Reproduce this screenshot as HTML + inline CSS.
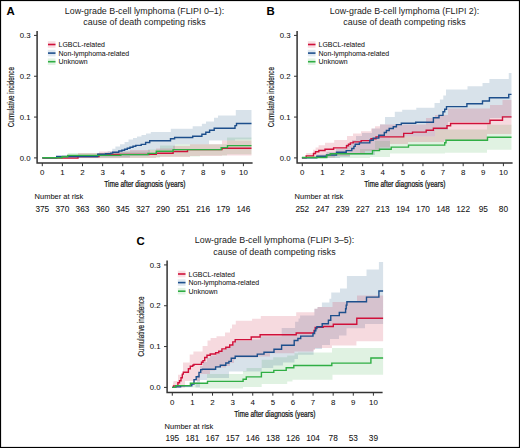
<!DOCTYPE html>
<html><head><meta charset="utf-8"><style>
html,body{margin:0;padding:0;background:#fff;}
svg{display:block;font-family:"Liberation Sans", sans-serif;}
text{stroke:#111;stroke-width:0.05px;}
</style></head><body>
<svg width="520" height="448" viewBox="0 0 520 448">
<rect x="0" y="0" width="520" height="448" fill="#fff"/>
<g><text x="6.6" y="15.2" font-size="11.4" font-weight="bold">A</text>
<text x="144.5" y="13.9" font-size="8.9" text-anchor="middle" fill="#1a1a1a" style="stroke-width:0">Low-grade B-cell lymphoma (FLIPI 0–1):</text>
<text x="144.5" y="25" font-size="8.9" text-anchor="middle" fill="#1a1a1a" style="stroke-width:0">cause of death competing risks</text>
<path d="M61.90 155.00 L67.70 155.00 L67.70 153.00 L120.00 153.00 L120.00 151.50 L148.00 151.50 L148.00 149.50 L160.00 149.50 L160.00 145.50 L175.00 145.50 L175.00 144.30 L227.00 144.30 L227.00 137.60 L251.50 137.60 L251.50 154.20 L227.00 154.20 L227.00 155.50 L200.00 155.50 L200.00 156.50 L160.00 156.50 L160.00 157.80 L120.00 157.80 L120.00 158.00 L61.90 158.00 Z" fill="#64be6e" fill-opacity="0.2"/>
<path d="M56.70 156.00 L97.70 156.00 L97.70 153.50 L104.00 153.50 L104.00 152.50 L107.70 152.50 L107.70 151.20 L112.30 151.20 L112.30 148.80 L115.40 148.80 L115.40 146.50 L120.00 146.50 L120.00 144.20 L124.60 144.20 L124.60 142.00 L128.50 142.00 L128.50 139.60 L133.00 139.60 L133.00 138.00 L137.00 138.00 L137.00 136.50 L141.50 136.50 L141.50 135.00 L146.00 135.00 L146.00 133.50 L150.80 133.50 L150.80 132.00 L170.80 132.00 L170.80 128.80 L192.70 128.80 L192.70 126.20 L201.90 126.20 L201.90 123.80 L206.00 123.80 L206.00 121.50 L214.00 121.50 L214.00 117.70 L218.00 117.70 L218.00 115.40 L235.80 115.40 L235.80 110.00 L251.50 110.00 L251.50 139.50 L235.00 139.50 L235.00 140.60 L209.00 140.60 L209.00 144.30 L175.00 144.30 L175.00 150.00 L150.00 150.00 L150.00 156.00 L130.00 156.00 L130.00 157.50 L97.70 157.50 L97.70 157.90 L56.70 157.90 Z" fill="#3c6e96" fill-opacity="0.2"/>
<path d="M62.50 156.00 L78.00 156.00 L78.00 153.00 L99.00 153.00 L99.00 151.50 L130.00 151.50 L130.00 150.00 L156.00 150.00 L156.00 148.50 L173.00 148.50 L173.00 146.00 L190.00 146.00 L190.00 144.30 L222.00 144.30 L222.00 140.60 L251.50 140.60 L251.50 155.40 L222.00 155.40 L222.00 156.00 L190.00 156.00 L190.00 157.00 L156.00 157.00 L156.00 158.00 L120.00 158.00 L120.00 158.20 L62.50 158.20 Z" fill="#d24660" fill-opacity="0.2"/>
<path d="M42.30 158.10 H78.00 V156.50 H99.00 V154.40 H156.30 V153.20 H173.10 V151.50 H187.50 V149.60 H222.00 V148.30 H251.50" fill="none" stroke="#d0103a" stroke-width="1.4" stroke-linejoin="miter" stroke-linecap="butt"/>
<path d="M42.30 157.90 H56.70 V156.50 H97.70 V154.30 H105.80 V153.80 H110.80 V153.10 H112.70 V152.30 H118.80 V151.00 H121.90 V150.30 H124.60 V149.30 H127.30 V148.30 H130.00 V147.30 H133.00 V146.30 H135.80 V145.40 H141.20 V144.40 H145.60 V142.50 H149.70 V140.80 H170.50 V138.80 H174.60 V137.50 H192.70 V136.20 H201.90 V134.20 H205.80 V132.30 H209.60 V130.20 H214.20 V128.20 H235.00 V125.60 H236.50 V123.50 H251.50" fill="none" stroke="#1d4f8c" stroke-width="1.4" stroke-linejoin="miter" stroke-linecap="butt"/>
<path d="M42.30 157.70 H61.90 V156.70 H67.70 V155.40 H120.80 V154.60 H148.00 V153.40 H156.30 V151.20 H173.10 V149.60 H221.20 V147.60 H227.50 V145.60 H251.50" fill="none" stroke="#2fae44" stroke-width="1.4" stroke-linejoin="miter" stroke-linecap="butt"/>
<path d="M37.1 31 V163 H252.6" fill="none" stroke="#333" stroke-width="1.5"/>
<path d="M34 157.90 H37" stroke="#333" stroke-width="1"/>
<text x="30.5" y="160.65" font-size="7.8" text-anchor="end" fill="#111">0.0</text>
<path d="M34 117.07 H37" stroke="#333" stroke-width="1"/>
<text x="30.5" y="119.82" font-size="7.8" text-anchor="end" fill="#111">0.1</text>
<path d="M34 76.24 H37" stroke="#333" stroke-width="1"/>
<text x="30.5" y="78.99" font-size="7.8" text-anchor="end" fill="#111">0.2</text>
<path d="M34 35.41 H37" stroke="#333" stroke-width="1"/>
<text x="30.5" y="38.16" font-size="7.8" text-anchor="end" fill="#111">0.3</text>
<path d="M42.30 163 V166.2" stroke="#333" stroke-width="1"/>
<text x="42.30" y="175" font-size="7.9" text-anchor="middle" fill="#111">0</text>
<path d="M62.41 163 V166.2" stroke="#333" stroke-width="1"/>
<text x="62.41" y="175" font-size="7.9" text-anchor="middle" fill="#111">1</text>
<path d="M82.52 163 V166.2" stroke="#333" stroke-width="1"/>
<text x="82.52" y="175" font-size="7.9" text-anchor="middle" fill="#111">2</text>
<path d="M102.63 163 V166.2" stroke="#333" stroke-width="1"/>
<text x="102.63" y="175" font-size="7.9" text-anchor="middle" fill="#111">3</text>
<path d="M122.74 163 V166.2" stroke="#333" stroke-width="1"/>
<text x="122.74" y="175" font-size="7.9" text-anchor="middle" fill="#111">4</text>
<path d="M142.85 163 V166.2" stroke="#333" stroke-width="1"/>
<text x="142.85" y="175" font-size="7.9" text-anchor="middle" fill="#111">5</text>
<path d="M162.96 163 V166.2" stroke="#333" stroke-width="1"/>
<text x="162.96" y="175" font-size="7.9" text-anchor="middle" fill="#111">6</text>
<path d="M183.07 163 V166.2" stroke="#333" stroke-width="1"/>
<text x="183.07" y="175" font-size="7.9" text-anchor="middle" fill="#111">7</text>
<path d="M203.18 163 V166.2" stroke="#333" stroke-width="1"/>
<text x="203.18" y="175" font-size="7.9" text-anchor="middle" fill="#111">8</text>
<path d="M223.29 163 V166.2" stroke="#333" stroke-width="1"/>
<text x="223.29" y="175" font-size="7.9" text-anchor="middle" fill="#111">9</text>
<path d="M243.40 163 V166.2" stroke="#333" stroke-width="1"/>
<text x="243.40" y="175" font-size="7.9" text-anchor="middle" fill="#111">10</text>
<text transform="translate(14.2 97) rotate(-90) scale(0.735 1)" x="0" y="0" font-size="8.6" text-anchor="middle" fill="#111" style="stroke-width:0.15px">Cumulative incidence</text>
<text transform="translate(144.8 187.4) scale(0.765 1)" x="0" y="0" font-size="8.6" text-anchor="middle" fill="#111" style="stroke-width:0.25px">Time after diagnosis (years)</text>
<text x="34.6" y="199.2" font-size="7.5" fill="#111">Number at risk</text>
<text x="42.30" y="211.8" font-size="8.3" text-anchor="middle" fill="#111">375</text>
<text x="62.41" y="211.8" font-size="8.3" text-anchor="middle" fill="#111">370</text>
<text x="82.52" y="211.8" font-size="8.3" text-anchor="middle" fill="#111">363</text>
<text x="102.63" y="211.8" font-size="8.3" text-anchor="middle" fill="#111">360</text>
<text x="122.74" y="211.8" font-size="8.3" text-anchor="middle" fill="#111">345</text>
<text x="142.85" y="211.8" font-size="8.3" text-anchor="middle" fill="#111">327</text>
<text x="162.96" y="211.8" font-size="8.3" text-anchor="middle" fill="#111">290</text>
<text x="183.07" y="211.8" font-size="8.3" text-anchor="middle" fill="#111">251</text>
<text x="203.18" y="211.8" font-size="8.3" text-anchor="middle" fill="#111">216</text>
<text x="223.29" y="211.8" font-size="8.3" text-anchor="middle" fill="#111">179</text>
<text x="243.40" y="211.8" font-size="8.3" text-anchor="middle" fill="#111">146</text>
<rect x="47.8" y="41.20" width="7.7" height="6.6" fill="#f8dfe3"/>
<path d="M48 44.50 H55.5" stroke="#d0103a" stroke-width="1.6"/>
<text x="58.6" y="47.10" font-size="6.95" fill="#111">LGBCL-related</text>
<rect x="47.8" y="49.80" width="7.7" height="6.6" fill="#e0e8f0"/>
<path d="M48 53.10 H55.5" stroke="#1d4f8c" stroke-width="1.6"/>
<text x="58.6" y="55.70" font-size="6.95" fill="#111">Non-lymphoma-related</text>
<rect x="47.8" y="58.40" width="7.7" height="6.6" fill="#e2f3e4"/>
<path d="M48 61.70 H55.5" stroke="#2fae44" stroke-width="1.6"/>
<text x="58.6" y="64.30" font-size="6.95" fill="#111">Unknown</text></g>
<g transform="translate(260 0)"><text x="6.6" y="15.2" font-size="11.4" font-weight="bold">B</text>
<text x="144.5" y="13.9" font-size="8.9" text-anchor="middle" fill="#1a1a1a" style="stroke-width:0">Low-grade B-cell lymphoma (FLIPI 2):</text>
<text x="144.5" y="25" font-size="8.9" text-anchor="middle" fill="#1a1a1a" style="stroke-width:0">cause of death competing risks</text>
<path d="M66.80 155.00 L80.00 155.00 L80.00 153.50 L100.00 153.50 L100.00 149.00 L115.00 149.00 L115.00 141.00 L130.00 141.00 L130.00 136.50 L175.00 136.50 L175.00 129.60 L227.00 129.60 L227.00 124.80 L251.50 124.80 L251.50 149.80 L227.00 149.80 L227.00 152.70 L185.00 152.70 L185.00 153.50 L130.00 153.50 L130.00 157.00 L110.00 157.00 L110.00 158.00 L70.00 158.00 L70.00 157.90 L41.90 157.90 Z" fill="#64be6e" fill-opacity="0.2"/>
<path d="M56.80 154.50 L66.50 154.50 L66.50 152.00 L76.00 152.00 L76.00 149.00 L86.00 149.00 L86.00 144.00 L92.00 144.00 L92.00 140.00 L96.00 140.00 L96.00 136.00 L102.00 136.00 L102.00 133.00 L112.00 133.00 L112.00 128.40 L120.00 128.40 L120.00 124.20 L125.00 124.20 L125.00 117.10 L134.80 117.10 L134.80 111.70 L142.20 111.70 L142.20 109.70 L156.30 109.70 L156.30 107.70 L174.50 107.70 L174.50 103.00 L179.90 103.00 L179.90 99.60 L183.30 99.60 L183.30 95.60 L186.00 95.60 L186.00 89.40 L207.50 89.40 L207.50 86.25 L222.50 86.25 L222.50 83.10 L229.40 83.10 L229.40 79.00 L248.75 79.00 L248.75 73.10 L251.50 73.10 L251.50 118.00 L230.00 118.00 L230.00 122.00 L188.00 122.00 L188.00 130.00 L175.00 130.00 L175.00 136.50 L130.00 136.50 L130.00 150.00 L115.00 150.00 L115.00 155.00 L90.00 155.00 L90.00 157.00 L80.00 157.00 L80.00 157.90 L56.80 157.90 Z" fill="#3c6e96" fill-opacity="0.2"/>
<path d="M46.20 153.10 L53.00 153.10 L53.00 149.70 L55.60 149.70 L55.60 147.50 L58.60 147.50 L58.60 145.30 L65.00 145.30 L65.00 142.70 L74.20 142.70 L74.20 140.10 L87.00 140.10 L87.00 136.10 L93.00 136.10 L93.00 133.40 L101.00 133.40 L101.00 131.20 L111.00 131.20 L111.00 128.50 L115.00 128.50 L115.00 126.30 L120.00 126.30 L120.00 124.50 L130.00 124.50 L130.00 124.50 L166.00 124.50 L166.00 118.00 L175.00 118.00 L175.00 115.00 L188.00 115.00 L188.00 108.50 L230.00 108.50 L230.00 105.00 L242.50 105.00 L242.50 100.00 L251.50 100.00 L251.50 133.90 L227.00 133.90 L227.00 140.40 L184.00 140.40 L184.00 142.00 L148.00 142.00 L148.00 144.00 L130.00 144.00 L130.00 147.50 L120.00 147.50 L120.00 151.00 L105.00 151.00 L105.00 154.00 L90.00 154.00 L90.00 156.00 L75.00 156.00 L75.00 157.50 L60.00 157.50 L60.00 157.90 L46.20 157.90 Z" fill="#d24660" fill-opacity="0.2"/>
<path d="M41.90 157.90 H46.20 V155.90 H53.50 V153.50 H55.50 V151.80 H58.80 V150.50 H65.00 V149.20 H73.60 V147.90 H86.50 V145.80 H88.50 V144.30 H90.40 V142.90 H93.20 V141.90 H101.20 V140.60 H111.00 V138.80 H116.00 V136.90 H143.70 V133.40 H152.50 V132.10 H166.20 V130.20 H173.40 V128.30 H187.00 V125.80 H190.60 V123.50 H230.00 V120.25 H242.50 V116.90 H251.50" fill="none" stroke="#d0103a" stroke-width="1.4" stroke-linejoin="miter" stroke-linecap="butt"/>
<path d="M41.90 157.90 H56.80 V156.20 H66.50 V155.00 H76.50 V152.30 H86.20 V150.60 H91.80 V148.50 H93.90 V146.40 H95.20 V144.30 H99.40 V142.90 H109.80 V140.20 H113.20 V138.10 H118.80 V135.30 H124.30 V132.50 H126.40 V130.50 H129.20 V128.50 H133.30 V126.70 H136.40 V124.60 H141.30 V123.30 H155.70 V122.20 H173.40 V117.70 H179.00 V115.40 H183.00 V111.70 H184.70 V109.20 H186.50 V106.60 H206.90 V103.75 H222.50 V101.00 H229.40 V97.75 H248.75 V94.40 H251.50" fill="none" stroke="#1d4f8c" stroke-width="1.4" stroke-linejoin="miter" stroke-linecap="butt"/>
<path d="M41.90 157.50 H66.80 V155.10 H70.20 V153.70 H112.50 V150.60 H119.50 V149.20 H131.20 V147.10 H148.50 V145.10 H184.70 V142.75 H186.00 V140.30 H227.50 V137.25 H251.50" fill="none" stroke="#2fae44" stroke-width="1.4" stroke-linejoin="miter" stroke-linecap="butt"/>
<path d="M37.1 31 V163 H252.6" fill="none" stroke="#333" stroke-width="1.5"/>
<path d="M34 157.90 H37" stroke="#333" stroke-width="1"/>
<text x="30.5" y="160.65" font-size="7.8" text-anchor="end" fill="#111">0.0</text>
<path d="M34 117.07 H37" stroke="#333" stroke-width="1"/>
<text x="30.5" y="119.82" font-size="7.8" text-anchor="end" fill="#111">0.1</text>
<path d="M34 76.24 H37" stroke="#333" stroke-width="1"/>
<text x="30.5" y="78.99" font-size="7.8" text-anchor="end" fill="#111">0.2</text>
<path d="M34 35.41 H37" stroke="#333" stroke-width="1"/>
<text x="30.5" y="38.16" font-size="7.8" text-anchor="end" fill="#111">0.3</text>
<path d="M42.30 163 V166.2" stroke="#333" stroke-width="1"/>
<text x="42.30" y="175" font-size="7.9" text-anchor="middle" fill="#111">0</text>
<path d="M62.41 163 V166.2" stroke="#333" stroke-width="1"/>
<text x="62.41" y="175" font-size="7.9" text-anchor="middle" fill="#111">1</text>
<path d="M82.52 163 V166.2" stroke="#333" stroke-width="1"/>
<text x="82.52" y="175" font-size="7.9" text-anchor="middle" fill="#111">2</text>
<path d="M102.63 163 V166.2" stroke="#333" stroke-width="1"/>
<text x="102.63" y="175" font-size="7.9" text-anchor="middle" fill="#111">3</text>
<path d="M122.74 163 V166.2" stroke="#333" stroke-width="1"/>
<text x="122.74" y="175" font-size="7.9" text-anchor="middle" fill="#111">4</text>
<path d="M142.85 163 V166.2" stroke="#333" stroke-width="1"/>
<text x="142.85" y="175" font-size="7.9" text-anchor="middle" fill="#111">5</text>
<path d="M162.96 163 V166.2" stroke="#333" stroke-width="1"/>
<text x="162.96" y="175" font-size="7.9" text-anchor="middle" fill="#111">6</text>
<path d="M183.07 163 V166.2" stroke="#333" stroke-width="1"/>
<text x="183.07" y="175" font-size="7.9" text-anchor="middle" fill="#111">7</text>
<path d="M203.18 163 V166.2" stroke="#333" stroke-width="1"/>
<text x="203.18" y="175" font-size="7.9" text-anchor="middle" fill="#111">8</text>
<path d="M223.29 163 V166.2" stroke="#333" stroke-width="1"/>
<text x="223.29" y="175" font-size="7.9" text-anchor="middle" fill="#111">9</text>
<path d="M243.40 163 V166.2" stroke="#333" stroke-width="1"/>
<text x="243.40" y="175" font-size="7.9" text-anchor="middle" fill="#111">10</text>
<text transform="translate(14.2 97) rotate(-90) scale(0.735 1)" x="0" y="0" font-size="8.6" text-anchor="middle" fill="#111" style="stroke-width:0.15px">Cumulative incidence</text>
<text transform="translate(144.8 187.4) scale(0.765 1)" x="0" y="0" font-size="8.6" text-anchor="middle" fill="#111" style="stroke-width:0.25px">Time after diagnosis (years)</text>
<text x="34.6" y="199.2" font-size="7.5" fill="#111">Number at risk</text>
<text x="42.30" y="211.8" font-size="8.3" text-anchor="middle" fill="#111">252</text>
<text x="62.41" y="211.8" font-size="8.3" text-anchor="middle" fill="#111">247</text>
<text x="82.52" y="211.8" font-size="8.3" text-anchor="middle" fill="#111">239</text>
<text x="102.63" y="211.8" font-size="8.3" text-anchor="middle" fill="#111">227</text>
<text x="122.74" y="211.8" font-size="8.3" text-anchor="middle" fill="#111">213</text>
<text x="142.85" y="211.8" font-size="8.3" text-anchor="middle" fill="#111">194</text>
<text x="162.96" y="211.8" font-size="8.3" text-anchor="middle" fill="#111">170</text>
<text x="183.07" y="211.8" font-size="8.3" text-anchor="middle" fill="#111">148</text>
<text x="203.18" y="211.8" font-size="8.3" text-anchor="middle" fill="#111">122</text>
<text x="223.29" y="211.8" font-size="8.3" text-anchor="middle" fill="#111">95</text>
<text x="243.40" y="211.8" font-size="8.3" text-anchor="middle" fill="#111">80</text>
<rect x="47.8" y="41.20" width="7.7" height="6.6" fill="#f8dfe3"/>
<path d="M48 44.50 H55.5" stroke="#d0103a" stroke-width="1.6"/>
<text x="58.6" y="47.10" font-size="6.95" fill="#111">LGBCL-related</text>
<rect x="47.8" y="49.80" width="7.7" height="6.6" fill="#e0e8f0"/>
<path d="M48 53.10 H55.5" stroke="#1d4f8c" stroke-width="1.6"/>
<text x="58.6" y="55.70" font-size="6.95" fill="#111">Non-lymphoma-related</text>
<rect x="47.8" y="58.40" width="7.7" height="6.6" fill="#e2f3e4"/>
<path d="M48 61.70 H55.5" stroke="#2fae44" stroke-width="1.6"/>
<text x="58.6" y="64.30" font-size="6.95" fill="#111">Unknown</text></g>
<g transform="translate(130 229.5)"><text x="6.6" y="15.2" font-size="11.4" font-weight="bold">C</text>
<text x="144.5" y="13.9" font-size="8.9" text-anchor="middle" fill="#1a1a1a" style="stroke-width:0">Low-grade B-cell lymphoma (FLIPI 3–5):</text>
<text x="144.5" y="25" font-size="8.9" text-anchor="middle" fill="#1a1a1a" style="stroke-width:0">cause of death competing risks</text>
<path d="M45.60 156.00 L60.00 156.00 L60.00 153.50 L77.00 153.50 L77.00 144.50 L113.00 144.50 L113.00 141.50 L116.50 141.50 L116.50 138.50 L131.70 138.50 L131.70 130.30 L143.20 130.30 L143.20 127.80 L157.20 127.80 L157.20 125.90 L164.50 125.90 L164.50 123.70 L168.00 123.70 L168.00 122.90 L202.00 122.90 L202.00 118.40 L253.10 118.40 L253.10 145.25 L202.50 145.25 L202.50 150.25 L162.50 150.25 L162.50 151.90 L157.20 151.90 L157.20 154.50 L131.70 154.50 L131.70 157.50 L113.00 157.50 L113.00 158.90 L70.00 158.90 L70.00 157.90 L42.30 157.90 Z" fill="#64be6e" fill-opacity="0.2"/>
<path d="M65.50 152.50 L67.00 152.50 L67.00 145.50 L70.00 145.50 L70.00 136.50 L73.00 136.50 L73.00 132.50 L77.00 132.50 L77.00 128.50 L80.00 128.50 L80.00 126.00 L86.00 126.00 L86.00 124.50 L89.00 124.50 L89.00 122.50 L92.00 122.50 L92.00 120.50 L96.00 120.50 L96.00 118.50 L100.00 118.50 L100.00 116.50 L103.00 116.50 L103.00 113.50 L105.00 113.50 L105.00 111.20 L121.00 111.20 L121.00 110.10 L130.00 110.10 L130.00 106.70 L151.70 106.70 L151.70 98.40 L165.10 98.40 L165.10 92.30 L168.50 92.30 L168.50 88.90 L170.10 88.90 L170.10 86.10 L184.40 86.10 L184.40 79.25 L187.50 79.25 L187.50 77.40 L191.90 77.40 L191.90 73.00 L199.40 73.00 L199.40 69.25 L201.25 69.25 L201.25 63.00 L210.00 63.00 L210.00 59.00 L216.90 59.00 L216.90 46.50 L236.50 46.50 L236.50 40.00 L248.90 40.00 L248.90 32.50 L253.10 32.50 L253.10 94.50 L235.00 94.50 L235.00 98.80 L216.50 98.80 L216.50 106.10 L209.00 106.10 L209.00 109.40 L200.00 109.40 L200.00 115.50 L192.00 115.50 L192.00 119.50 L183.60 119.50 L183.60 125.30 L168.00 125.30 L168.00 129.50 L164.50 129.50 L164.50 132.90 L153.00 132.90 L153.00 136.00 L143.20 136.00 L143.20 138.50 L131.70 138.50 L131.70 142.00 L99.00 142.00 L99.00 148.50 L77.00 148.50 L77.00 150.50 L70.00 150.50 L70.00 157.90 L65.50 157.90 Z" fill="#3c6e96" fill-opacity="0.2"/>
<path d="M43.60 151.50 L48.00 151.50 L48.00 145.30 L53.00 145.30 L53.00 133.00 L59.70 133.00 L59.70 125.00 L63.40 125.00 L63.40 122.00 L72.60 122.00 L72.60 116.50 L77.50 116.50 L77.50 110.90 L80.60 110.90 L80.60 108.50 L86.50 108.50 L86.50 106.70 L95.00 106.70 L95.00 103.00 L100.00 103.00 L100.00 99.00 L102.00 99.00 L102.00 95.10 L105.80 95.10 L105.80 91.30 L122.10 91.30 L122.10 89.30 L130.80 89.30 L130.80 86.60 L166.20 86.60 L166.20 82.80 L184.40 82.80 L184.40 79.25 L187.50 79.25 L187.50 77.40 L202.50 77.40 L202.50 72.40 L227.00 72.40 L227.00 66.10 L253.10 66.10 L253.10 111.80 L226.40 111.80 L226.40 115.90 L201.90 115.90 L201.90 118.50 L185.00 118.50 L185.00 120.50 L183.50 120.50 L183.50 122.10 L164.40 122.10 L164.40 123.80 L140.00 123.80 L140.00 126.90 L127.70 126.90 L127.70 128.00 L105.20 128.00 L105.20 130.50 L104.00 130.50 L104.00 133.50 L100.00 133.50 L100.00 136.50 L96.00 136.50 L96.00 138.00 L88.50 138.00 L88.50 138.50 L85.00 138.50 L85.00 141.10 L80.00 141.10 L80.00 144.50 L70.00 144.50 L70.00 151.50 L65.50 151.50 L65.50 151.50 L55.00 151.50 L55.00 157.90 L42.30 157.90 Z" fill="#d24660" fill-opacity="0.2"/>
<path d="M42.30 157.90 H43.60 V156.40 H47.90 V153.20 H49.50 V151.30 H51.00 V148.20 H52.30 V144.60 H53.30 V142.70 H58.40 V139.20 H60.30 V136.80 H62.70 V135.70 H63.90 V134.90 H71.50 V132.80 H73.00 V131.10 H74.70 V128.00 H77.00 V125.70 H80.20 V124.50 H85.60 V123.30 H88.75 V121.75 H91.90 V119.40 H95.80 V117.80 H99.70 V115.50 H102.80 V112.40 H105.20 V110.10 H121.20 V107.50 H130.10 V105.30 H166.20 V103.50 H184.10 V101.00 H185.20 V97.90 H193.20 V97.00 H203.30 V94.80 H226.80 V88.70 H253.10" fill="none" stroke="#d0103a" stroke-width="1.4" stroke-linejoin="miter" stroke-linecap="butt"/>
<path d="M42.30 157.90 H45.60 V157.40 H50.60 V156.30 H61.80 V154.60 H64.00 V150.10 H66.20 V147.30 H69.00 V142.90 H70.70 V140.10 H72.40 V139.70 H85.60 V137.40 H90.30 V135.80 H95.80 V133.50 H98.90 V131.90 H101.25 V128.80 H105.20 V126.80 H127.30 V124.60 H134.00 V122.70 H144.00 V119.80 H151.60 V115.70 H164.20 V111.00 H167.90 V109.00 H170.70 V106.60 H183.00 V104.00 H184.60 V101.20 H185.80 V99.00 H186.90 V97.30 H192.20 V94.30 H198.40 V90.80 H200.75 V86.10 H209.30 V83.00 H215.60 V79.20 H216.20 V75.60 H216.90 V72.20 H236.50 V67.60 H248.90 V61.50 H253.10" fill="none" stroke="#1d4f8c" stroke-width="1.4" stroke-linejoin="miter" stroke-linecap="butt"/>
<path d="M42.30 157.90 H45.60 V156.10 H60.40 V153.80 H77.50 V151.90 H113.10 V149.70 H116.30 V147.40 H131.40 V142.90 H143.80 V140.90 H156.20 V138.30 H163.80 V136.00 H201.80 V133.60 H240.90 V128.50 H253.10" fill="none" stroke="#2fae44" stroke-width="1.4" stroke-linejoin="miter" stroke-linecap="butt"/>
<path d="M37.1 31 V163 H252.6" fill="none" stroke="#333" stroke-width="1.5"/>
<path d="M34 157.90 H37" stroke="#333" stroke-width="1"/>
<text x="30.5" y="160.65" font-size="7.8" text-anchor="end" fill="#111">0.0</text>
<path d="M34 117.07 H37" stroke="#333" stroke-width="1"/>
<text x="30.5" y="119.82" font-size="7.8" text-anchor="end" fill="#111">0.1</text>
<path d="M34 76.24 H37" stroke="#333" stroke-width="1"/>
<text x="30.5" y="78.99" font-size="7.8" text-anchor="end" fill="#111">0.2</text>
<path d="M34 35.41 H37" stroke="#333" stroke-width="1"/>
<text x="30.5" y="38.16" font-size="7.8" text-anchor="end" fill="#111">0.3</text>
<path d="M42.30 163 V166.2" stroke="#333" stroke-width="1"/>
<text x="42.30" y="175" font-size="7.9" text-anchor="middle" fill="#111">0</text>
<path d="M62.41 163 V166.2" stroke="#333" stroke-width="1"/>
<text x="62.41" y="175" font-size="7.9" text-anchor="middle" fill="#111">1</text>
<path d="M82.52 163 V166.2" stroke="#333" stroke-width="1"/>
<text x="82.52" y="175" font-size="7.9" text-anchor="middle" fill="#111">2</text>
<path d="M102.63 163 V166.2" stroke="#333" stroke-width="1"/>
<text x="102.63" y="175" font-size="7.9" text-anchor="middle" fill="#111">3</text>
<path d="M122.74 163 V166.2" stroke="#333" stroke-width="1"/>
<text x="122.74" y="175" font-size="7.9" text-anchor="middle" fill="#111">4</text>
<path d="M142.85 163 V166.2" stroke="#333" stroke-width="1"/>
<text x="142.85" y="175" font-size="7.9" text-anchor="middle" fill="#111">5</text>
<path d="M162.96 163 V166.2" stroke="#333" stroke-width="1"/>
<text x="162.96" y="175" font-size="7.9" text-anchor="middle" fill="#111">6</text>
<path d="M183.07 163 V166.2" stroke="#333" stroke-width="1"/>
<text x="183.07" y="175" font-size="7.9" text-anchor="middle" fill="#111">7</text>
<path d="M203.18 163 V166.2" stroke="#333" stroke-width="1"/>
<text x="203.18" y="175" font-size="7.9" text-anchor="middle" fill="#111">8</text>
<path d="M223.29 163 V166.2" stroke="#333" stroke-width="1"/>
<text x="223.29" y="175" font-size="7.9" text-anchor="middle" fill="#111">9</text>
<path d="M243.40 163 V166.2" stroke="#333" stroke-width="1"/>
<text x="243.40" y="175" font-size="7.9" text-anchor="middle" fill="#111">10</text>
<text transform="translate(14.2 97) rotate(-90) scale(0.735 1)" x="0" y="0" font-size="8.6" text-anchor="middle" fill="#111" style="stroke-width:0.15px">Cumulative incidence</text>
<text transform="translate(144.8 187.4) scale(0.765 1)" x="0" y="0" font-size="8.6" text-anchor="middle" fill="#111" style="stroke-width:0.25px">Time after diagnosis (years)</text>
<text x="34.6" y="199.2" font-size="7.5" fill="#111">Number at risk</text>
<text x="42.30" y="211.8" font-size="8.3" text-anchor="middle" fill="#111">195</text>
<text x="62.41" y="211.8" font-size="8.3" text-anchor="middle" fill="#111">181</text>
<text x="82.52" y="211.8" font-size="8.3" text-anchor="middle" fill="#111">167</text>
<text x="102.63" y="211.8" font-size="8.3" text-anchor="middle" fill="#111">157</text>
<text x="122.74" y="211.8" font-size="8.3" text-anchor="middle" fill="#111">146</text>
<text x="142.85" y="211.8" font-size="8.3" text-anchor="middle" fill="#111">138</text>
<text x="162.96" y="211.8" font-size="8.3" text-anchor="middle" fill="#111">126</text>
<text x="183.07" y="211.8" font-size="8.3" text-anchor="middle" fill="#111">104</text>
<text x="203.18" y="211.8" font-size="8.3" text-anchor="middle" fill="#111">78</text>
<text x="223.29" y="211.8" font-size="8.3" text-anchor="middle" fill="#111">53</text>
<text x="243.40" y="211.8" font-size="8.3" text-anchor="middle" fill="#111">39</text>
<rect x="47.8" y="41.20" width="7.7" height="6.6" fill="#f8dfe3"/>
<path d="M48 44.50 H55.5" stroke="#d0103a" stroke-width="1.6"/>
<text x="58.6" y="47.10" font-size="6.95" fill="#111">LGBCL-related</text>
<rect x="47.8" y="49.80" width="7.7" height="6.6" fill="#e0e8f0"/>
<path d="M48 53.10 H55.5" stroke="#1d4f8c" stroke-width="1.6"/>
<text x="58.6" y="55.70" font-size="6.95" fill="#111">Non-lymphoma-related</text>
<rect x="47.8" y="58.40" width="7.7" height="6.6" fill="#e2f3e4"/>
<path d="M48 61.70 H55.5" stroke="#2fae44" stroke-width="1.6"/>
<text x="58.6" y="64.30" font-size="6.95" fill="#111">Unknown</text></g>
<rect x="0.5" y="0.5" width="519" height="447" fill="none" stroke="#000" stroke-width="1.2"/>
</svg>
</body></html>
